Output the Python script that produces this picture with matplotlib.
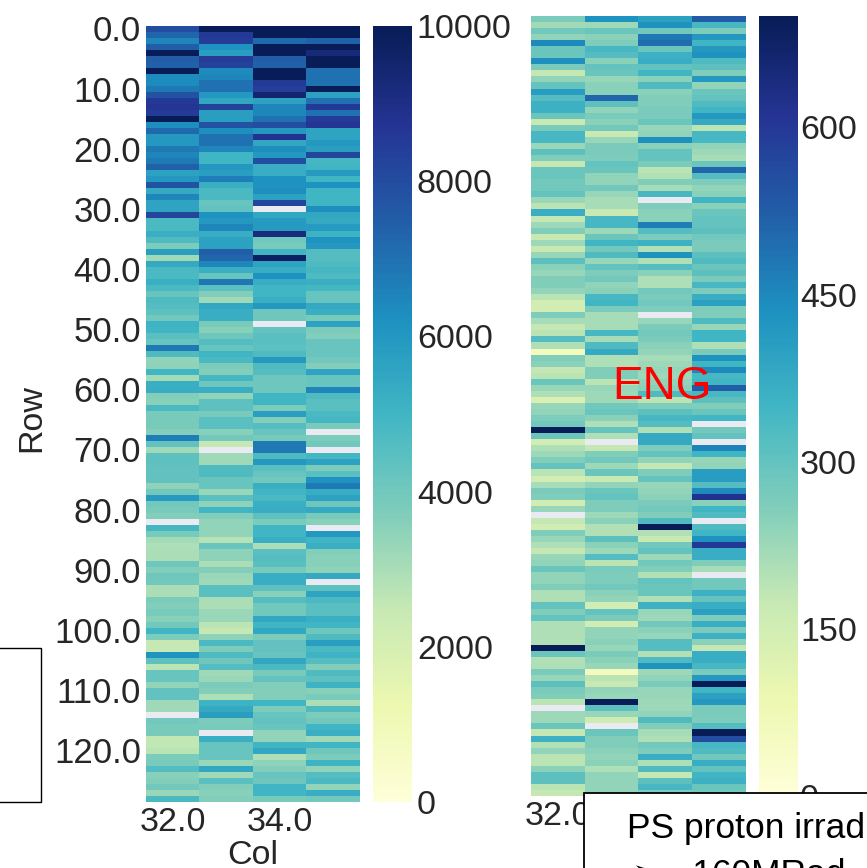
import numpy as np
import matplotlib
matplotlib.use("Agg")
import matplotlib.pyplot as plt
from matplotlib.patches import Rectangle

plt.rcParams['font.family'] = ['Liberation Sans', 'DejaVu Sans']

nan = np.nan
W, H = 867, 868
txt = '#262626'

# left map, values per row for each column
left_32 = [8000,7300,6500,7500,10000,7500,7400,10000,6400,6400,
    6800,7800,8600,8700,8500,10000,6300,7200,6000,6000,
    6800,6500,6800,7400,5700,6000,7800,5400,6500,5600,
    5600,8200,4800,4800,5200,4700,3800,5800,3200,5400,
    4800,4800,5200,4800,4200,4700,4600,4400,4000,5100,
    5000,4500,4200,6800,4700,3400,3500,5000,3100,5200,
    5300,3700,3600,4800,3900,3900,3900,3700,6700,4300,
    3200,4400,4400,4300,4300,4300,3500,4000,5900,4000,
    3900,3700,nan,4900,3900,3100,2900,3000,3000,4100,
    3700,4100,4000,3000,3000,3800,3700,3900,3600,4000,
    5000,3800,2500,2500,6100,4400,2700,4200,4200,3400,
    4300,4300,3200,3200,nan,4000,3900,3900,2600,2600,
    2700,3800,3900,4600,3600,3700,4000,3300,4800]
left_33 = [10000,8600,8500,6200,5800,8500,8300,6400,6500,7000,
    7000,6000,5500,8300,5800,5800,7800,6300,7000,7000,
    6500,5000,5000,6000,5800,6700,5200,4800,4800,4200,
    4300,6200,6000,6500,5300,5700,5700,7500,7300,6500,
    5200,4200,6900,4500,3700,3200,5500,5300,5300,3900,
    3600,4100,4600,4200,5000,4800,3800,3700,4900,4100,
    5300,3400,4400,4400,3900,4500,4500,3600,4000,2500,
    nan,3200,3200,4700,4700,4200,4200,3300,4500,3500,
    5000,3700,3400,3400,3400,2800,4200,3500,3500,3000,
    3700,3300,3200,4500,4500,3000,3000,3300,3300,2700,
    2500,3500,4800,3800,4700,4100,4600,3200,3300,3800,
    3700,2900,5100,5400,5800,3800,3900,nan,5200,4200,
    4200,4200,3300,5500,3200,4500,3700,3600,3700]
left_34 = [10000,10000,7200,10000,10000,7500,7400,10000,10000,8600,
    8400,9500,5700,6500,6500,7000,8000,6000,8800,5500,
    6300,6000,8000,5300,5300,6200,6200,6300,5700,8200,
    nan,5500,5900,5900,9200,4000,3900,5000,9800,5600,
    5300,6200,5300,5000,5000,5200,6000,4100,4100,nan,
    4300,4500,4500,4400,4700,6000,4700,4600,4100,4100,
    4100,5000,5000,3800,5800,3700,4600,4200,3900,6800,
    6800,4700,6000,4500,4200,4000,5200,5000,4800,5200,
    5300,4400,3800,5000,5000,5300,3000,4500,4600,4500,
    3900,5300,5300,4400,3600,4600,4000,4000,5500,5000,
    5500,3800,4300,4300,4200,5500,4800,3900,4300,3700,
    3700,3700,5000,3800,4200,4300,4200,3400,3400,5000,
    5500,2900,3500,3700,4200,4100,5000,5000,3900]
left_35 = [10000,10000,7400,10000,9300,10000,10000,7000,7000,7000,
    10000,5700,7000,8600,7000,8500,8700,5600,5600,6000,
    5800,8200,4900,5000,5900,5000,6200,5000,5000,5000,
    6300,5500,5400,5900,5100,6200,6000,4600,4600,4700,
    4900,4700,5200,4900,4200,4200,5400,5200,3900,5700,
    3800,3700,4200,4200,4200,4000,3700,5600,4200,4200,
    6500,4700,4500,4500,4800,4900,3900,nan,3800,4000,
    nan,4900,5700,3800,4500,6200,6800,5300,5700,4100,
    5400,3900,3600,nan,6000,5000,5200,3700,3600,3600,
    3500,5400,nan,4400,5600,4800,4500,4500,5200,5000,
    4100,4700,5800,4800,5100,4600,3700,4700,4400,5100,
    3600,3900,3000,4700,3800,4000,5000,5200,3200,5000,
    4100,3800,5100,3400,4600,4800,3400,5300,4000]

# right map
right_32 = [270,220,280,240,450,290,290,440,270,180,
    240,300,410,320,360,360,290,170,270,340,
    340,230,310,260,180,290,290,280,280,300,
    230,190,370,180,225,260,170,225,170,235,
    310,250,235,260,260,240,190,150,150,265,
    215,180,190,320,205,60,260,250,180,190,
    290,235,205,130,235,240,265,280,700,290,
    150,205,225,260,300,190,150,215,270,260,
    150,235,nan,180,150,265,235,205,180,235,
    240,290,240,240,260,205,205,300,260,300,
    205,205,205,200,700,290,200,205,270,235,
    310,270,260,190,nan,225,225,290,180,360,
    200,240,190,190,250,310,310,190,180]
right_33 = [430,225,290,250,265,340,320,250,300,290,
    235,250,250,510,310,240,270,250,280,170,
    235,270,270,265,300,290,240,240,280,235,
    215,215,170,340,340,225,290,350,280,330,
    235,300,265,280,240,250,340,350,270,215,
    215,215,340,215,330,380,205,205,260,260,
    190,235,225,225,280,290,250,205,300,205,
    nan,180,260,280,225,290,170,240,290,300,
    265,265,225,250,200,200,310,250,225,320,
    190,270,265,265,280,250,240,150,300,270,
    150,240,240,250,235,270,250,235,60,190,
    170,240,235,700,310,235,160,nan,290,260,
    260,250,240,250,205,240,240,240,240]
right_34 = [400,430,280,480,500,290,360,370,300,350,
    250,330,250,260,260,270,270,290,235,240,
    440,250,300,300,270,190,200,260,215,340,
    nan,265,250,250,470,320,265,360,200,430,
    205,320,250,205,205,280,270,280,265,nan,
    235,270,280,270,250,240,215,225,235,225,
    240,250,330,190,260,310,340,320,205,380,
    380,265,300,240,180,265,300,235,240,250,
    270,280,260,330,700,200,170,280,300,225,
    280,260,200,300,290,290,200,360,235,225,
    280,250,235,320,320,200,330,430,225,240,
    270,235,235,225,225,240,330,260,215,205,
    280,265,370,205,330,180,310,340,265]
right_35 = [530,340,265,420,350,420,430,330,310,260,
    420,240,290,300,330,350,420,380,190,340,
    340,240,225,215,290,510,320,265,240,250,
    350,250,290,300,300,310,280,270,270,310,
    330,290,310,270,340,265,370,400,265,260,
    330,235,350,350,205,270,430,350,450,340,
    350,530,340,310,260,290,350,nan,280,300,
    nan,460,350,235,240,410,410,320,450,620,
    250,350,330,nan,330,350,430,600,370,370,
    260,215,nan,280,280,360,300,370,400,265,
    370,270,360,250,180,370,370,340,270,420,
    700,350,400,420,270,270,265,320,700,560,
    340,330,280,370,300,350,360,290,280]

left_ticks = [0, 2000, 4000, 6000, 8000, 10000]
right_ticks = [0, 150, 300, 450, 600]
col_ticks = [32.0, 34.0]
row_ticks = np.arange(0, 130, 10)


def box(x0, y0, x1, y1):
    return [x0 / W, 1 - y1 / H, (x1 - x0) / W, (y1 - y0) / H]


def heat(cols, hbox, cbox, vmax, cticks, show_rows, cpad):
    cmap = plt.get_cmap('YlGnBu').copy()
    cmap.set_bad('#eaeaf2')
    ax = fig.add_axes(box(*hbox))
    data = np.ma.masked_invalid(np.array(cols).T)
    im = ax.imshow(data, cmap=cmap, vmin=0, vmax=vmax, aspect='auto', interpolation='nearest')
    for s in ax.spines.values():
        s.set_visible(False)
    ax.set_xticks([0, 2])
    ax.set_xticklabels(['%.1f' % c for c in col_ticks], fontsize=24.5, color=txt)
    ax.tick_params(length=0, pad=3.5)
    if show_rows:
        ax.set_yticks(row_ticks - 0.1)
        ax.set_yticklabels(['%.1f' % r for r in row_ticks], fontsize=25, color=txt)
    else:
        ax.set_yticks([])
    cax = fig.add_axes(box(*cbox))
    cb = fig.colorbar(im, cax=cax)
    cb.outline.set_visible(False)
    cb.set_ticks(cticks)
    cb.ax.tick_params(length=0, labelsize=24.5, labelcolor=txt, pad=cpad)
    cb.solids.set_edgecolor('face')
    return ax


fig = plt.figure(figsize=(W / 100, H / 100), dpi=100)

heat([left_32, left_33, left_34, left_35], (146, 26, 360, 802), (373, 26, 412, 802),
     10000, left_ticks, True, 3.5)
heat([right_32, right_33, right_34, right_35], (531, 16, 746, 796), (759, 16, 798, 796),
     700, right_ticks, False, 1.5)

fig.text(253 / W, 1 - 855 / H, 'Col', fontsize=24.5, color=txt, ha='center', va='center')
fig.text(32 / W, 1 - 418 / H, 'Row', fontsize=24.5, color=txt, ha='center', va='center', rotation=90)
fig.text(662 / W, 1 - 387 / H, 'ENG', fontsize=33, color='red', ha='center', va='center')

# slide boxes cut off by the crop
fig.add_artist(Rectangle((-20 / W, 1 - 802 / H), 61 / W, 154 / H, transform=fig.transFigure,
                         fc='white', ec='black', lw=1))
fig.add_artist(Rectangle((584 / W, 1 - 920 / H), 320 / W, 127 / H, transform=fig.transFigure,
                         fc='white', ec='black', lw=1.3))
fig.text(627 / W, 1 - 838 / H, 'PS proton irradiation', fontsize=25.5, color='black', va='baseline')
fig.text(632 / W, 1 - 884 / H, '\u27a2 ~160MRad', fontsize=25.5, color='black', va='baseline')

fig.savefig('out.png', dpi=100)
